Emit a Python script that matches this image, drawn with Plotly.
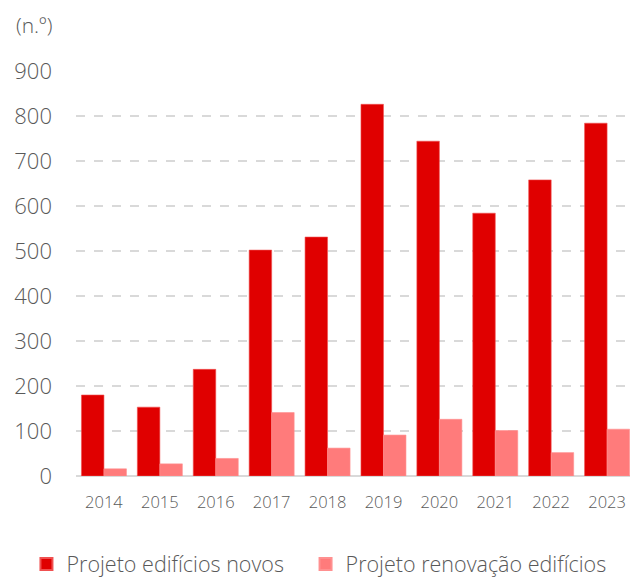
import plotly.graph_objects as go

years = ["2014", "2015", "2016", "2017", "2018", "2019", "2020", "2021", "2022", "2023"]
novos = [180, 153, 237, 502, 531, 826, 744, 584, 658, 784]
renovacao = [16, 27, 39, 141, 62, 91, 126, 101, 52, 104]
y_ticks = [0, 100, 200, 300, 400, 500, 600, 700, 800, 900]

font_family = "Open Sans, Lato, sans-serif"
text_color = "#595959"

fig = go.Figure()
fig.add_trace(go.Bar(
    x=list(range(len(years))), y=novos, name="Projeto edifícios novos",
    marker=dict(color="#E00000", line=dict(color="#F05050", width=0.6)),
    legend="legend",
))
fig.add_trace(go.Bar(
    x=list(range(len(years))), y=renovacao, name="Projeto renovação edifícios",
    marker=dict(color="#FF7B7B", line=dict(color="#FF9090", width=0.6)),
    legend="legend2",
))

legend_common = dict(
    orientation="h", xref="container", yref="container",
    xanchor="left", yanchor="middle", y=(578 - 564) / 578,
    font=dict(size=21.5, color=text_color, weight=300), itemwidth=30,
    itemsizing="constant", bgcolor="rgba(0,0,0,0)",
)

fig.update_layout(
    width=630, height=578,
    margin=dict(l=76, r=0, t=71, b=102, autoexpand=False),
    paper_bgcolor="white", plot_bgcolor="white",
    barmode="group", bargap=0.195, bargroupgap=0,
    font=dict(family=font_family, color=text_color, weight=300),
    showlegend=True,
    legend=dict(x=0.042, **legend_common),
    legend2=dict(x=0.485, **legend_common),
    annotations=[dict(text="(n.º)", xref="paper", yref="paper", x=-0.112, y=1.0,
                      xanchor="left", yanchor="bottom", yshift=30, showarrow=False,
                      font=dict(size=21, color=text_color, weight=300))],
)
fig.update_xaxes(
    tickmode="array", tickvals=list(range(len(years))), ticktext=years,
    range=[-0.5, 9.41], showgrid=False, showline=False, ticks="",
    tickfont=dict(size=16.5, color=text_color, weight=300), ticklabelstandoff=14,
)
fig.update_yaxes(
    range=[0, 900], tickmode="array", tickvals=y_ticks,
    showgrid=True, gridcolor="#D9D9D9", gridwidth=1.5, griddash="dash",
    zeroline=True, zerolinecolor="#D9D9D9", zerolinewidth=2,
    tickfont=dict(size=22, color=text_color, weight=300), ticklabelstandoff=23,
)

fig.write_html("out.html")
